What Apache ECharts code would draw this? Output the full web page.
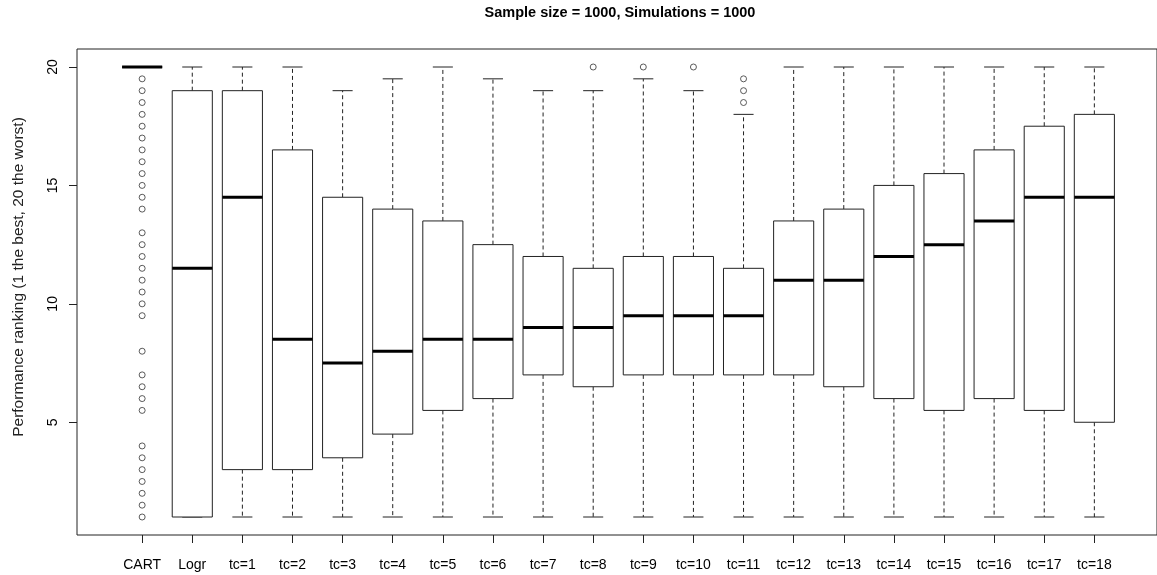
<!DOCTYPE html>
<html>
<head>
<meta charset="utf-8">
<script src="https://cdn.jsdelivr.net/npm/echarts@6/dist/echarts.min.js"></script>
<style>
  html, body { margin: 0; padding: 0; background: #fff; }
  #chart { width: 1157px; height: 575px; }
</style>
</head>
<body>
<div id="chart"></div>
<script>
// categories and box statistics
var categories = ['CART', 'Logr', 'tc=1', 'tc=2', 'tc=3', 'tc=4', 'tc=5', 'tc=6', 'tc=7', 'tc=8',
  'tc=9', 'tc=10', 'tc=11', 'tc=12', 'tc=13', 'tc=14', 'tc=15', 'tc=16', 'tc=17', 'tc=18'];
var whiskerLow  = [20, 1, 1, 1, 1, 1, 1, 1, 1, 1, 1, 1, 1, 1, 1, 1, 1, 1, 1, 1];
var q1          = [20, 1, 3, 3, 3.5, 4.5, 5.5, 6, 7, 6.5, 7, 7, 7, 7, 6.5, 6, 5.5, 6, 5.5, 5];
var median      = [20, 11.5, 14.5, 8.5, 7.5, 8, 8.5, 8.5, 9, 9, 9.5, 9.5, 9.5, 11, 11, 12, 12.5, 13.5, 14.5, 14.5];
var q3          = [20, 19, 19, 16.5, 14.5, 14, 13.5, 12.5, 12, 11.5, 12, 12, 11.5, 13.5, 14, 15, 15.5, 16.5, 17.5, 18];
var whiskerHigh = [20, 20, 20, 20, 19, 19.5, 20, 19.5, 19, 19, 19.5, 19, 18, 20, 20, 20, 20, 20, 20, 20];

// outliers per category
var cartOutliers = [19.5, 19, 18.5, 18, 17.5, 17, 16.5, 16, 15.5, 15, 14.5, 14, 13, 12.5, 12, 11.5, 11,
  10.5, 10, 9.5, 8, 7, 6.5, 6, 5.5, 4, 3.5, 3, 2.5, 2, 1.5, 1];
var tc8Outliers = [20];
var tc9Outliers = [20];
var tc10Outliers = [20];
var tc11Outliers = [19.5, 19, 18.5];

var yTicks = [5, 10, 15, 20];

var boxData = categories.map(function (c, i) {
  return [i + 1, whiskerLow[i], q1[i], median[i], q3[i], whiskerHigh[i]];
});

var outlierData = [];
function addOutliers(name, vals) {
  var x = categories.indexOf(name) + 1;
  vals.forEach(function (v) { outlierData.push([x, v]); });
}
addOutliers('CART', cartOutliers);
addOutliers('tc=8', tc8Outliers);
addOutliers('tc=9', tc9Outliers);
addOutliers('tc=10', tc10Outliers);
addOutliers('tc=11', tc11Outliers);

var ink = '#222';
var font = 'Liberation Sans, Arial, sans-serif';

var chart = echarts.init(document.getElementById('chart'));

function renderBox(params, api) {
  var x = api.value(0);
  var lo = api.coord([x, api.value(1)]);
  var b1 = api.coord([x, api.value(2)]);
  var md = api.coord([x, api.value(3)]);
  var b3 = api.coord([x, api.value(4)]);
  var hi = api.coord([x, api.value(5)]);
  var half = api.size([0.8, 0])[0] / 2;
  var capHalf = api.size([0.4, 0])[0] / 2;
  var cx = lo[0];
  var solid = { stroke: ink, lineWidth: 1, fill: null };
  var dashed = { stroke: ink, lineWidth: 1, lineDash: [4, 3], fill: null };
  return {
    type: 'group',
    children: [
      { type: 'line', shape: { x1: cx, y1: b3[1], x2: cx, y2: hi[1] }, style: dashed },
      { type: 'line', shape: { x1: cx, y1: b1[1], x2: cx, y2: lo[1] }, style: dashed },
      { type: 'line', shape: { x1: cx - capHalf, y1: hi[1], x2: cx + capHalf, y2: hi[1] }, style: solid },
      { type: 'line', shape: { x1: cx - capHalf, y1: lo[1], x2: cx + capHalf, y2: lo[1] }, style: solid },
      {
        type: 'rect',
        shape: { x: cx - half, y: b3[1], width: half * 2, height: b1[1] - b3[1] },
        style: { fill: '#fff', stroke: ink, lineWidth: 1 }
      },
      { type: 'line', shape: { x1: cx - half, y1: md[1], x2: cx + half, y2: md[1] }, style: { stroke: '#000', lineWidth: 3 } }
    ]
  };
}

chart.setOption({
  backgroundColor: '#fff',
  animation: false,
  textStyle: { fontFamily: font },
  grid: {
    left: 77, top: 49, right: -3, bottom: 40,
    show: true, borderColor: ink, borderWidth: 1, backgroundColor: 'transparent'
  },
  graphic: [
    {
      type: 'text', x: 620, y: 13,
      style: {
        text: 'Sample size = 1000, Simulations = 1000',
        fill: '#000', font: 'bold 14.5px ' + font, textAlign: 'center', textVerticalAlign: 'middle'
      }
    },
    {
      type: 'text', x: 19, y: 277, rotation: Math.PI / 2,
      style: {
        text: 'Performance ranking (1 the best, 20 the worst)',
        fill: ink, font: '15.5px ' + font, textAlign: 'center', textVerticalAlign: 'middle'
      }
    }
  ],
  xAxis: {
    type: 'value', min: -0.3, max: 21.25,
    splitLine: { show: false },
    axisLine: { show: false, onZero: false },
    axisTick: { show: true, customValues: boxData.map(function (d) { return d[0]; }), length: 8, lineStyle: { color: ink } },
    axisLabel: {
      customValues: boxData.map(function (d) { return d[0]; }),
      formatter: function (v) { return categories[v - 1]; },
      color: '#000', fontSize: 14, margin: 23, fontFamily: font
    }
  },
  yAxis: {
    type: 'value', min: 0.24, max: 20.76,
    splitLine: { show: false },
    axisLine: { show: false, onZero: false },
    axisTick: { show: true, customValues: yTicks, length: 8, lineStyle: { color: ink } },
    axisLabel: {
      customValues: yTicks, rotate: 90, color: '#000', fontSize: 14, margin: 17, fontFamily: font
    }
  },
  series: [
    {
      type: 'custom',
      renderItem: renderBox,
      encode: { x: 0, y: [1, 2, 3, 4, 5] },
      data: boxData,
      z: 2
    },
    {
      type: 'scatter',
      symbol: 'circle',
      symbolSize: 6,
      itemStyle: { color: '#fff', borderColor: '#333', borderWidth: 1 },
      data: outlierData,
      z: 3
    }
  ]
});
</script>
</body>
</html>
